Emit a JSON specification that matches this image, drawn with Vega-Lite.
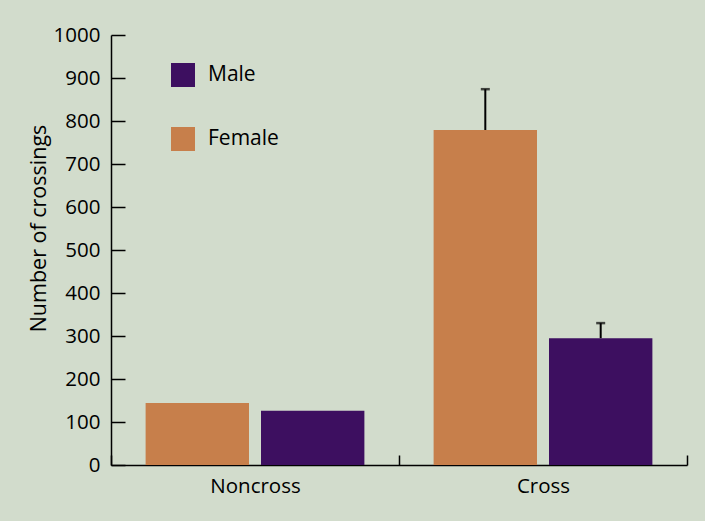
{
  "$schema": "https://vega.github.io/schema/vega-lite/v6.json",
  "width": 576,
  "height": 430,
  "autosize": "none",
  "padding": {"left": 111, "top": 35, "right": 18, "bottom": 56},
  "background": "#d2dccc",
  "config": {
    "view": {"stroke": null},
    "font": "Open Sans",
    "axis": {"grid": false, "domainColor": "#000000", "tickColor": "#000000", "labelColor": "#000000", "titleColor": "#000000", "labelFontSize": 20.5, "titleFontSize": 21.5, "titleFontWeight": "normal", "domainWidth": 1.5, "tickWidth": 1.5}
  },
  "data": {
    "values": [
      {"condition": "Noncross", "sex": "Female", "crossings": 144, "upper": null},
      {"condition": "Noncross", "sex": "Male", "crossings": 126, "upper": null},
      {"condition": "Cross", "sex": "Female", "crossings": 779, "upper": 874},
      {"condition": "Cross", "sex": "Male", "crossings": 295, "upper": 330}
    ]
  },
  "encoding": {
    "x": {
      "field": "condition", "type": "nominal", "sort": ["Noncross", "Cross"],
      "scale": {"paddingInner": 0, "paddingOuter": 0},
      "axis": {"title": null, "labelAngle": 0, "tickBand": "extent", "tickSize": -10, "labelPadding": 21}
    },
    "xOffset": {
      "field": "sex", "type": "nominal", "sort": ["Female", "Male"],
      "scale": {"paddingInner": 0.104, "paddingOuter": 0.3}
    }
  },
  "layer": [
    {
      "mark": {"type": "bar"},
      "encoding": {
        "y": {
          "field": "crossings", "type": "quantitative",
          "scale": {"domain": [0, 1000]},
          "axis": {"title": "Number of crossings", "format": "d", "values": [0,100,200,300,400,500,600,700,800,900,1000], "tickSize": -14, "labelPadding": 25, "titlePadding": 3, "titleY": 193}
        },
        "color": {
          "field": "sex", "type": "nominal",
          "scale": {"domain": ["Male", "Female"], "range": ["#3d0f60", "#c77f4b"]},
          "legend": {"title": null, "orient": "none", "legendX": 60, "legendY": 28, "symbolType": "square", "symbolSize": 576, "symbolStrokeWidth": 0, "symbolOpacity": 1, "labelFontSize": 21, "labelColor": "#000000", "labelOffset": 13, "rowPadding": 40}
        }
      }
    },
    {
      "transform": [{"filter": "datum.upper != null"}],
      "mark": {"type": "rule", "color": "#000000", "strokeWidth": 2},
      "encoding": {
        "y": {"field": "crossings", "type": "quantitative"},
        "y2": {"field": "upper"}
      }
    },
    {
      "transform": [{"filter": "datum.upper != null"}],
      "mark": {"type": "tick", "color": "#000000", "thickness": 2.5, "size": 9, "orient": "horizontal"},
      "encoding": {
        "y": {"field": "upper", "type": "quantitative"}
      }
    }
  ]
}
